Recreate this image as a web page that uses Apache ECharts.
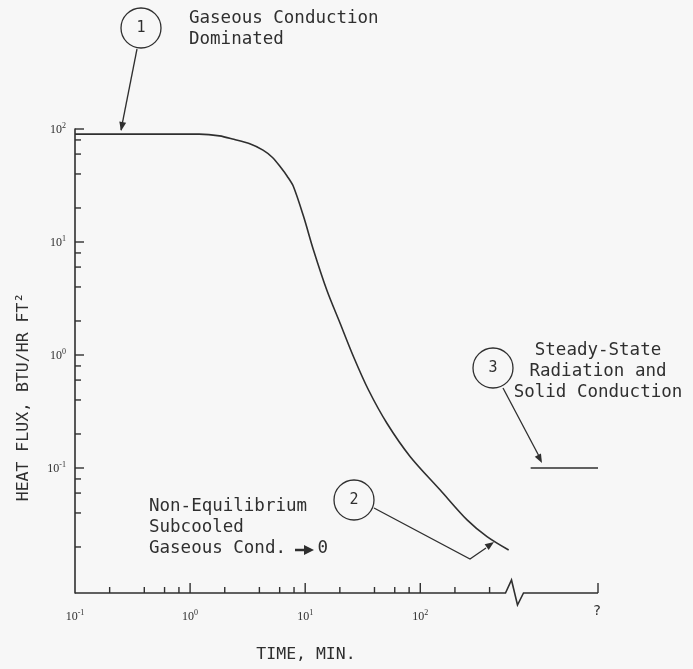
<!DOCTYPE html>
<html>
<head>
<meta charset="utf-8">
<title>Heat flux vs time</title>
<script src="https://cdn.jsdelivr.net/npm/echarts@6/dist/echarts.min.js"></script>
<style>
  html, body { margin: 0; padding: 0; background: #f7f7f7; }
  #chart { width: 693px; height: 669px; }
</style>
</head>
<body>
<div id="chart"></div>
<script>
// main curve (time in min, heat flux in BTU/HR FT2)
const timeMin = [0.1, 0.6, 1.2, 1.8, 2.4, 3.3, 4.3, 5.2, 6.1, 7.0, 7.9, 9.7, 11.8, 15.4, 20.1, 26.3, 35.5, 51.3, 81.8, 149, 255, 380, 586];
const heatFlux = [90, 90, 90, 87, 81, 74, 65, 56, 46, 38, 31, 16.7, 8.5, 3.76, 1.91, 0.966, 0.49, 0.249, 0.126, 0.0638, 0.0347, 0.0247, 0.0188];
// steady state level (3)
const steadyTime = [910, 3500];
const steadyFlux = [0.1, 0.1];
// axis ticks
const xMajorTicks = [1, 10, 100, 3500];
const xMinorTicks = [0.2, 0.4, 0.6, 0.8, 2, 4, 6, 8, 20, 40, 60, 80, 200, 400];
const yMajorTicks = [0.1, 1, 10, 100];
const yMinorTicks = [0.02, 0.04, 0.06, 0.08, 0.2, 0.4, 0.6, 0.8, 2, 4, 6, 8, 20, 40, 60, 80];
const xMin = 0.1, xMax = 3500, xBreak = 550;
const yMin = 0.00783, yMax = 100;

const ink = '#2f2f2f';
const mono = '"DejaVu Sans Mono", monospace';

function powLabel(v, lo, hi) {
  const e = Math.log10(v);
  const r = Math.round(e);
  if (Math.abs(e - r) > 1e-6 || r < lo || r > hi) return '';
  return '{b|10}{s|' + r + '}';
}
const labelRich = {
  b: { fontSize: 12, fontFamily: 'Liberation Serif', color: ink, verticalAlign: 'bottom', lineHeight: 14 },
  s: { fontSize: 8, fontFamily: 'Liberation Serif', color: ink, verticalAlign: 'top', lineHeight: 14 }
};

function arrowHead(x1, y1, x2, y2, len, half) {
  const a = Math.atan2(y2 - y1, x2 - x1);
  len = len || 9; half = half || 3.5;
  const bx = x2 - len * Math.cos(a), by = y2 - len * Math.sin(a);
  return {
    type: 'polygon',
    shape: { points: [[x2, y2], [bx + half * Math.sin(a), by - half * Math.cos(a)], [bx - half * Math.sin(a), by + half * Math.cos(a)]] },
    style: { fill: ink }
  };
}
function circleNum(cx, cy, n) {
  return [
    { type: 'circle', shape: { cx: cx, cy: cy, r: 20 }, style: { fill: 'none', stroke: ink, lineWidth: 1.3 } },
    { type: 'text', x: cx, y: cy, style: { text: n, font: '15px ' + mono, fill: ink, align: 'center', verticalAlign: 'middle' } }
  ];
}
function note(x, y, text, align) {
  return { type: 'text', x: x, y: y, style: { text: text, font: '17.5px ' + mono, fill: ink, align: align || 'left', verticalAlign: 'top', lineHeight: 21 } };
}

const chart = echarts.init(document.getElementById('chart'));

chart.setOption({
  backgroundColor: '#f7f7f7',
  animation: false,
  grid: { left: 75, right: 95, top: 129, bottom: 76 },
  xAxis: {
    type: 'log', logBase: 10, min: xMin, max: xMax,
    axisLine: { show: false },
    axisTick: { show: false },
    splitLine: { show: false },
    axisLabel: { margin: 16, formatter: v => powLabel(v, -1, 2), rich: labelRich }
  },
  yAxis: {
    type: 'log', logBase: 10, min: yMin, max: yMax,
    axisLine: { show: true, lineStyle: { color: ink, width: 1.6 } },
    axisTick: { show: false },
    splitLine: { show: false },
    axisLabel: { margin: 9, formatter: v => powLabel(v, -1, 2), rich: labelRich }
  },
  series: [
    {
      type: 'line',
      data: timeMin.map((t, i) => [t, heatFlux[i]]),
      showSymbol: false,
      smooth: 0.3,
      lineStyle: { color: ink, width: 1.6 }
    },
    {
      type: 'line',
      data: steadyTime.map((t, i) => [t, steadyFlux[i]]),
      showSymbol: false,
      clip: false,
      lineStyle: { color: ink, width: 1.6 }
    },
    {
      // x axis line with the break, plus its ticks
      type: 'custom',
      clip: false,
      data: xMinorTicks.map(v => [v, yMin, 0]).concat(xMajorTicks.map(v => [v, yMin, 1])),
      encode: { x: 0, y: 1 },
      renderItem: (params, api) => {
        const p = api.coord([api.value(0), yMin]);
        const len = api.value(2) ? 10 : 6;
        const children = [{ type: 'line', shape: { x1: p[0], y1: p[1], x2: p[0], y2: p[1] - len }, style: { stroke: ink, lineWidth: 1.4 } }];
        if (params.dataIndex === 0) {
          const s = api.coord([xMin, yMin]);
          const b = api.coord([xBreak, yMin]);
          const e = api.coord([xMax, yMin]);
          children.push({
            type: 'polyline',
            shape: { points: [s, b, [b[0] + 6, b[1] - 13], [b[0] + 12, b[1] + 12], [b[0] + 18, b[1]], e] },
            style: { fill: 'none', stroke: ink, lineWidth: 1.6 }
          });
        }
        return { type: 'group', children: children };
      }
    },
    {
      type: 'custom',
      clip: false,
      data: yMinorTicks.map(v => [xMin, v, 0]).concat(yMajorTicks.map(v => [xMin, v, 1])),
      encode: { x: 0, y: 1 },
      renderItem: (params, api) => {
        const p = api.coord([xMin, api.value(1)]);
        const len = api.value(2) ? 9 : 6;
        return { type: 'line', shape: { x1: p[0], y1: p[1], x2: p[0] + len, y2: p[1] }, style: { stroke: ink, lineWidth: 1.4 } };
      }
    }
  ],
  graphic: [
    { type: 'text', x: 24, y: 397, rotation: Math.PI / 2, style: { text: 'HEAT FLUX, BTU/HR FT²', font: '16.5px ' + mono, fill: ink, align: 'center', verticalAlign: 'middle' } },
    { type: 'text', x: 306, y: 655, style: { text: 'TIME, MIN.', font: '16.5px ' + mono, fill: ink, align: 'center', verticalAlign: 'middle' } },
    { type: 'text', x: 597, y: 611, style: { text: '?', font: '14px ' + mono, fill: ink, align: 'center', verticalAlign: 'middle' } },
    ...circleNum(141, 28, '1'),
    note(189, 8, 'Gaseous Conduction\nDominated'),
    { type: 'line', shape: { x1: 137, y1: 49, x2: 121, y2: 130 }, style: { stroke: ink, lineWidth: 1.3 } },
    arrowHead(137, 49, 121, 131),
    ...circleNum(354, 500, '2'),
    note(149, 496, 'Non-Equilibrium\nSubcooled\nGaseous Cond.   0'),
    { type: 'line', shape: { x1: 295, y1: 550, x2: 305, y2: 550 }, style: { stroke: ink, lineWidth: 2.5 } },
    arrowHead(295, 550, 314, 550, 10, 5),
    { type: 'polyline', shape: { points: [[374, 508], [470, 559], [486, 548]] }, style: { fill: 'none', stroke: ink, lineWidth: 1.3 } },
    arrowHead(470, 559, 494, 542),
    ...circleNum(493, 368, '3'),
    note(598, 340, 'Steady-State\nRadiation and\nSolid Conduction', 'center'),
    { type: 'line', shape: { x1: 503, y1: 388, x2: 540, y2: 458 }, style: { stroke: ink, lineWidth: 1.3 } },
    arrowHead(503, 388, 542, 463)
  ]
});
</script>
</body>
</html>
